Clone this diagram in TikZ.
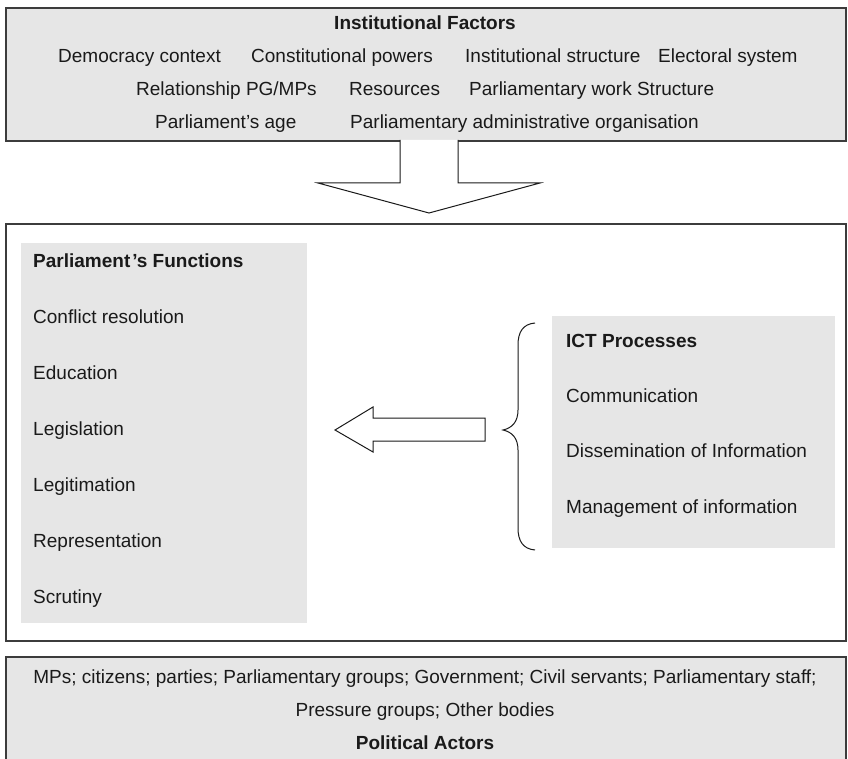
\documentclass[tikz,border=0pt]{standalone}
\usepackage{fontspec}
\setmainfont{Liberation Sans}
\definecolor{boxgray}{HTML}{E6E6E6}
\definecolor{edgegray}{HTML}{3C3C3C}
\definecolor{txt}{HTML}{1A1A1A}
\begin{document}
\begin{tikzpicture}[x=1pt,y=-1pt,
  frame/.style={draw=edgegray,line width=1.6pt,anchor=north west,inner sep=0pt},
  panel/.style={fill=boxgray,draw=none,anchor=north west,inner sep=0pt},
  lbl/.style={anchor=west,inner sep=0pt,text=txt,font=\fontsize{19}{23}\selectfont,text height=14pt,text depth=4pt},
  clbl/.style={lbl,anchor=center},
  blbl/.style={lbl,font=\fontsize{19}{23}\selectfont\bfseries},
  cblbl/.style={blbl,anchor=center},
  blockarrow/.style={draw=txt,line width=1pt,fill=white,line join=miter}]
\useasboundingbox (0,0) rectangle (848,759);
% top box
\node[frame,fill=boxgray,minimum width=840pt,minimum height=133pt] (top) at (5,7) {};
\node[cblbl] (tt) at (425,25) {Institutional Factors};
\node[lbl] (a1) at (58,58) {Democracy context};
\node[lbl] (a2) at (251,58) {Constitutional powers};
\node[lbl] (a3) at (465,58) {Institutional structure};
\node[lbl] (a4) at (658,58) {Electoral system};
\node[lbl] (b1) at (136,91) {Relationship PG/MPs};
\node[lbl] (b2) at (349,91) {Resources};
\node[lbl] (b3) at (469,91) {Parliamentary work Structure};
\node[lbl] (c1) at (155,124) {Parliament’s age};
\node[lbl] (c2) at (350,124) {Parliamentary administrative organisation};
% down arrow
\draw[blockarrow] (400,140) -- (400,183) -- (318,183) -- (429,213) -- (540,183) -- (458,183) -- (458,140);
% main box
\node[frame,fill=white,minimum width=840pt,minimum height=417pt] (main) at (5,223) {};
\node[panel,minimum width=286pt,minimum height=380pt] (pf) at (21,243) {};
\node[blbl] (pft) at (33,263) {Parliament\kern2pt’s Functions};
\node[lbl] (f1) at (33,318) {Conflict resolution};
\node[lbl] (f2) at (33,374) {Education};
\node[lbl] (f3) at (33,430) {Legislation};
\node[lbl] (f4) at (33,486) {Legitimation};
\node[lbl] (f5) at (33,542) {Representation};
\node[lbl] (f6) at (33,598) {Scrutiny};
\node[panel,minimum width=283pt,minimum height=232pt] (ict) at (552,316) {};
\node[blbl] (ictt) at (566,342) {ICT Processes};
\node[lbl] (i1) at (566,397) {Communication};
\node[lbl] (i2) at (566,452) {Dissemination of Information};
\node[lbl] (i3) at (566,508) {Management of information};
% left arrow
\draw[blockarrow] (335,430) -- (373,407) -- (373,418) -- (485,418) -- (485,441) -- (373,441) -- (373,452) -- cycle;
% brace
\draw[txt,line width=1pt] (535,323) .. controls (523,324) and (518,332) .. (518,345)
  -- (518,410) .. controls (518,422) and (512,428) .. (503,430)
  .. controls (512,432) and (518,438) .. (518,450)
  -- (518,528) .. controls (518,541) and (523,549) .. (535,550);
% bottom box
\node[frame,fill=boxgray,minimum width=840pt,minimum height=120pt] (bot) at (5,656) {};
\node[clbl] (p1) at (425,678) {MPs; citizens; parties; Parliamentary groups; Government; Civil servants; Parliamentary staff;};
\node[clbl] (p2) at (425,711) {Pressure groups; Other bodies};
\node[cblbl] (p3) at (425,744) {Political Actors};
\end{tikzpicture}
\end{document}
